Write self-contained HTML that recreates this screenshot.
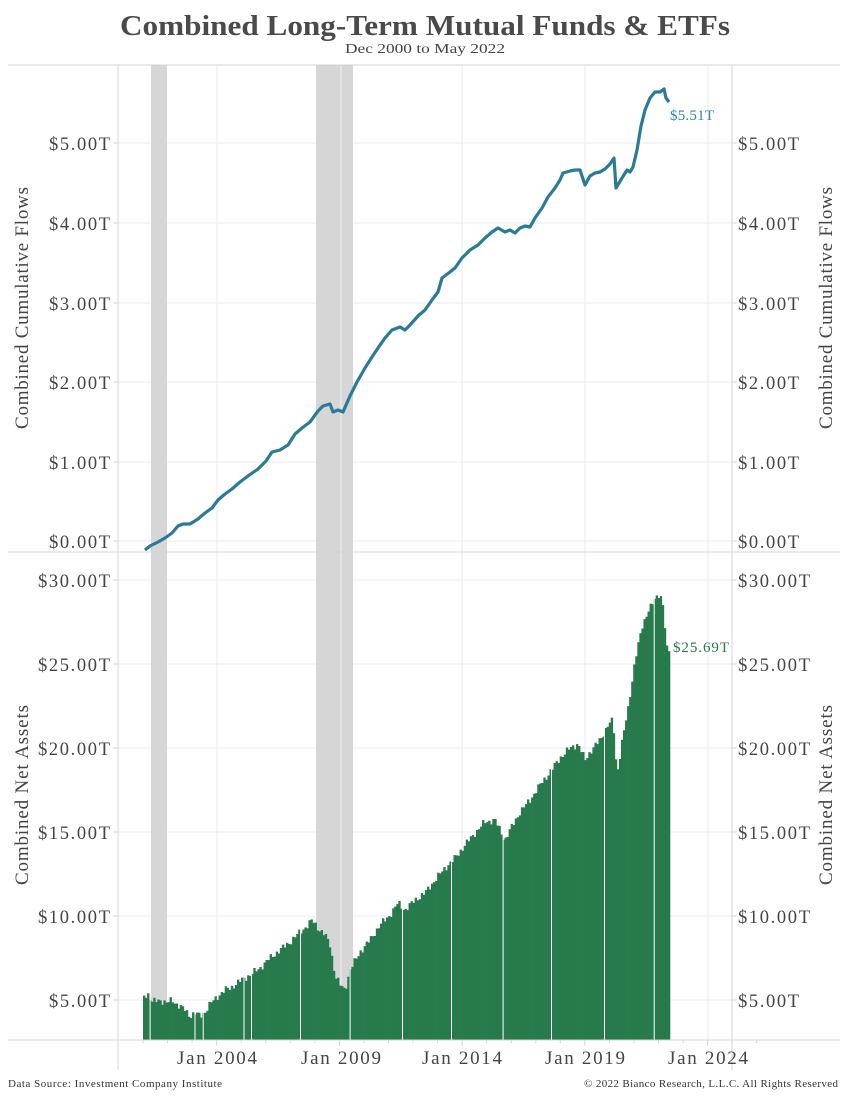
<!DOCTYPE html>
<html><head><meta charset="utf-8"><style>
body{margin:0;background:#fff;}
svg{display:block;font-family:"Liberation Serif",serif;}
</style></head><body>
<svg id="s" width="850" height="1100" xmlns="http://www.w3.org/2000/svg">
<rect width="850" height="1100" fill="#fff"/>
<text x="425" y="35" text-anchor="middle" font-size="28" font-weight="bold" fill="#4a4a4a" textLength="610" lengthAdjust="spacingAndGlyphs">Combined Long-Term Mutual Funds &amp; ETFs</text>
<text x="425" y="53" text-anchor="middle" font-size="14" fill="#444" textLength="160" lengthAdjust="spacingAndGlyphs">Dec 2000 to May 2022</text>
<g id="grid" stroke="#ebebeb" stroke-width="1">
<line x1="118" x2="732" y1="541" y2="541"/><line x1="118" x2="732" y1="462" y2="462"/><line x1="118" x2="732" y1="382" y2="382"/><line x1="118" x2="732" y1="303" y2="303"/><line x1="118" x2="732" y1="223" y2="223"/><line x1="118" x2="732" y1="143" y2="143"/>
<line x1="118" x2="732" y1="580" y2="580"/><line x1="118" x2="732" y1="664" y2="664"/><line x1="118" x2="732" y1="748" y2="748"/><line x1="118" x2="732" y1="832" y2="832"/><line x1="118" x2="732" y1="916" y2="916"/><line x1="118" x2="732" y1="1000" y2="1000"/>
<line x1="217" x2="217" y1="65" y2="1040"/><line x1="341" x2="341" y1="65" y2="1040"/><line x1="462" x2="462" y1="65" y2="1040"/><line x1="585" x2="585" y1="65" y2="1040"/><line x1="708" x2="708" y1="65" y2="1040"/>
</g>
<rect x="151" y="65" width="16" height="975" fill="#d6d6d6"/>
<rect x="316" y="65" width="37" height="975" fill="#d6d6d6"/>
<line x1="341" x2="341" y1="65" y2="1040" stroke="#f2f2f2"/>
<g id="bars" fill="#267a4c"></g>
<polyline id="line" fill="none" stroke="#2b7a98" stroke-width="3.2" stroke-linejoin="round"/>
<g stroke="#d4d4d4" stroke-width="1">
<line x1="8" x2="840" y1="65" y2="65"/><line x1="8" x2="840" y1="552" y2="552"/><line x1="8" x2="840" y1="1040" y2="1040"/>
<line x1="118" x2="118" y1="65" y2="1070"/><line x1="732" x2="732" y1="65" y2="1070"/>
<g id="ticks"></g>
</g>
<g font-size="18.5" fill="#444" text-anchor="end" lengthAdjust="spacingAndGlyphs">
<text x="110" y="548" textLength="61">$0.00T</text><text x="110" y="469" textLength="61">$1.00T</text><text x="110" y="389" textLength="61">$2.00T</text><text x="110" y="310" textLength="61">$3.00T</text><text x="110" y="230" textLength="61">$4.00T</text><text x="110" y="150" textLength="61">$5.00T</text>
<text x="110" y="587" textLength="72">$30.00T</text><text x="110" y="671" textLength="72">$25.00T</text><text x="110" y="755" textLength="72">$20.00T</text><text x="110" y="839" textLength="72">$15.00T</text><text x="110" y="923" textLength="72">$10.00T</text><text x="110" y="1007" textLength="61">$5.00T</text>
</g>
<g font-size="18.5" fill="#444">
<text x="738" y="548" textLength="61">$0.00T</text><text x="738" y="469" textLength="61">$1.00T</text><text x="738" y="389" textLength="61">$2.00T</text><text x="738" y="310" textLength="61">$3.00T</text><text x="738" y="230" textLength="61">$4.00T</text><text x="738" y="150" textLength="61">$5.00T</text>
<text x="738" y="587" textLength="72">$30.00T</text><text x="738" y="671" textLength="72">$25.00T</text><text x="738" y="755" textLength="72">$20.00T</text><text x="738" y="839" textLength="72">$15.00T</text><text x="738" y="923" textLength="72">$10.00T</text><text x="738" y="1007" textLength="61">$5.00T</text>
</g>
<g font-size="19" fill="#444" text-anchor="middle">
<text transform="translate(28,308) rotate(-90)" textLength="242">Combined Cumulative Flows</text>
<text transform="translate(28,795) rotate(-90)" textLength="180">Combined Net Assets</text>
<text transform="translate(832,308) rotate(-90)" textLength="242">Combined Cumulative Flows</text>
<text transform="translate(832,795) rotate(-90)" textLength="180">Combined Net Assets</text>
<text x="217" y="1064" textLength="80">Jan 2004</text><text x="341" y="1064" textLength="80">Jan 2009</text><text x="462" y="1064" textLength="80">Jan 2014</text><text x="585" y="1064" textLength="80">Jan 2019</text><text x="708" y="1064" textLength="80">Jan 2024</text>
</g>
<text x="670" y="120" font-size="15" fill="#2f84a8" textLength="44">$5.51T</text>
<text x="673" y="652" font-size="15" fill="#267a4c" textLength="56">$25.69T</text>
<text x="8" y="1087" font-size="11" fill="#333" textLength="214">Data Source: Investment Company Institute</text>
<text x="838" y="1087" font-size="11" fill="#333" text-anchor="end" textLength="254">© 2022 Bianco Research, L.L.C. All Rights Reserved</text>
</svg>
<script>
var L=[[145,550],[150,546],[158,542],[165,538],[172,533],[178,526],[183,524],[190,524],[198,519],[205,513],[212,508],[218,500],[225,494],[232,489],[240,482],[248,476],[258,469],[266,461],[272,452],[280,450],[288,445],[295,434],[302,428],[310,422],[318,411],[323,406],[330,404],[333,412],[338,410],[343,412],[350,396],[357,382],[365,368],[372,357],[378,348],[385,338],[392,330],[400,327],[405,330],[410,325],[418,316],[425,310],[432,300],[438,292],[442,278],[450,272],[455,268],[462,258],[470,250],[478,245],[485,238],[492,232],[498,228],[505,232],[510,230],[515,233],[520,228],[525,226],[530,227],[535,218],[542,208],[548,197],[555,188],[560,180],[563,173],[570,171],[575,170],[580,170],[585,185],[590,176],[595,173],[600,172],[605,169],[610,164],[614,158],[616,188],[622,178],[627,170],[630,172],[633,167],[637,150],[641,126],[645,110],[650,98],[655,92],[660,92],[664,89],[666,98],[669,102]];
document.getElementById('line').setAttribute('points',L.map(function(p){return p.join(',')}).join(' '));
var B=[[143,996],[148,994],[152,1002],[160,1000],[167,1003],[172,1000],[178,1005],[185,1010],[190,1016],[195,1013],[200,1016],[205,1012],[210,1004],[218,996],[225,990],[232,987],[240,981],[250,975],[260,968],[270,958],[280,950],[290,942],[300,932],[308,925],[312,920],[318,928],[325,935],[330,945],[335,975],[340,985],[345,990],[350,970],[360,952],[370,940],[380,925],[390,915],[398,903],[405,910],[415,900],[425,893],[435,880],[445,868],[455,858],[465,845],[475,833],[485,822],[495,820],[505,840],[510,830],[520,812],[530,800],[540,785],[550,772],[560,758],[570,748],[578,744],[585,760],[590,752],[600,740],[608,725],[613,720],[617,775],[622,742],[628,710],[635,660],[642,628],[648,610],[655,600],[660,593],[663,605],[667,650],[670,652]];
function interp(x){for(var i=0;i<B.length-1;i++){if(x>=B[i][0]&&x<=B[i+1][0]){var t=(x-B[i][0])/(B[i+1][0]-B[i][0]);return B[i][1]+t*(B[i+1][1]-B[i][1]);}}return B[B.length-1][1];}
var g=document.getElementById('bars'),h='';var w=(670-143)/258;
for(var k=0;k<258;k++){var x=143+k*w;var y=interp(x+w/2)+Math.sin(k*2.3)*2.5+Math.sin(k*0.9)*1.5;h+='<rect x="'+x.toFixed(2)+'" y="'+y.toFixed(1)+'" width="'+(w+0.3).toFixed(2)+'" height="'+(1040-y).toFixed(1)+'"/>';}
var gaps=[149.6,194.5,202.7,243.5,251,300,349.6,402,451,502.6,551,604,653.7];
gaps.forEach(function(x){var y=interp(x)-4;h+='<rect x="'+x+'" y="'+y+'" width="1" height="'+(1040-y)+'" fill="#fff"/>';});
g.innerHTML=h;
var t='';[541,462,382,303,223,143,580,664,748,832,916,1000].forEach(function(y){t+='<line x1="113" x2="118" y1="'+y+'" y2="'+y+'"/><line x1="732" x2="737" y1="'+y+'" y2="'+y+'"/>';});
for(var i=0;i<26;i++){var x=143+i*24.55;t+='<line x1="'+x+'" x2="'+x+'" y1="1040" y2="'+((i%5==3)?1046:1043)+'"/>';}
document.getElementById('ticks').innerHTML=t;
</script>
</body></html>
